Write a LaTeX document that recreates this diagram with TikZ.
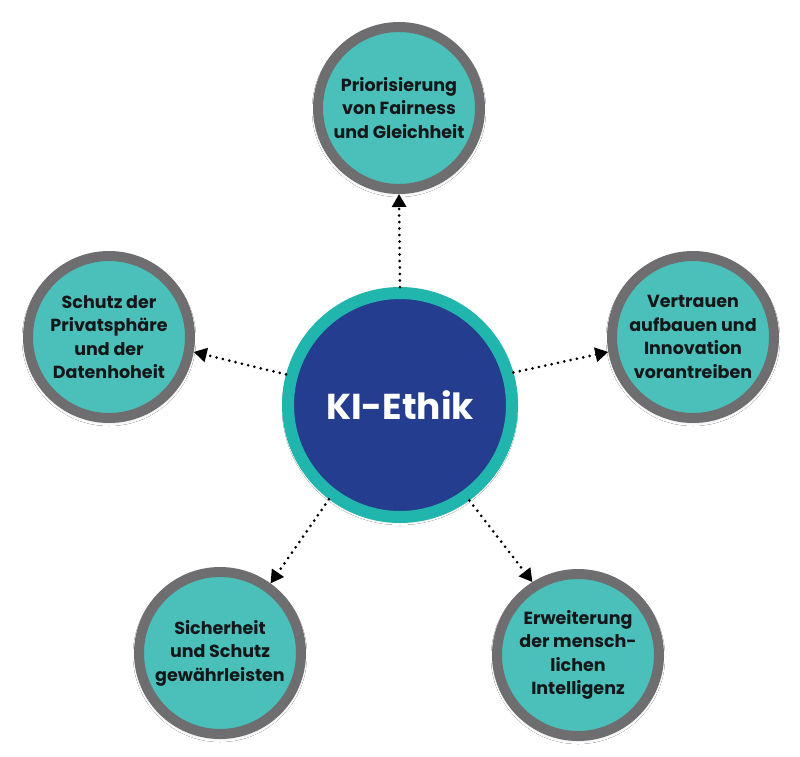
\documentclass[tikz,border=0pt]{standalone}
\usepackage{fontspec}
\setmainfont{Poppins}
\usetikzlibrary{arrows.meta,shadows.blur}
\definecolor{hubblue}{RGB}{37,61,143}
\definecolor{hubteal}{RGB}{32,181,173}
\definecolor{leafteal}{RGB}{75,191,186}
\definecolor{leafgray}{RGB}{110,110,112}
\definecolor{textdark}{RGB}{20,22,24}
\tikzset{
  hub/.style={circle, minimum size=224pt, inner sep=0pt, fill=hubblue, draw=hubteal, line width=12pt,
    text=white, font=\bfseries\fontsize{36}{40}\selectfont,
    blur shadow={shadow xshift=0pt, shadow yshift=-2pt, shadow blur steps=8, shadow opacity=25, shadow blur radius=6pt}},
  leaf/.style={circle, minimum size=162pt, inner sep=0pt, fill=leafteal, draw=leafgray, line width=10pt,
    align=center, text=textdark, font=\bfseries\fontsize{17.5}{23.5}\selectfont,
    blur shadow={shadow xshift=0pt, shadow yshift=-2pt, shadow blur steps=8, shadow opacity=25, shadow blur radius=6pt}},
  link/.style={line width=3pt, line cap=round, dash pattern=on 0pt off 6.5pt,
    -{Triangle[length=13pt,width=14pt]}}
}
\begin{document}
\begin{tikzpicture}[x=1pt,y=-1pt]
\useasboundingbox (0,0) rectangle (800,756);
\fill[white] (0,0) rectangle (800,756);
\node[hub] (hub) at (400,405) {KI-Ethik};
\node[leaf] (top) at (399,108) {Priorisierung\\von Fairness\\und Gleichheit};
\node[leaf] (left) at (109,337) {Schutz der\\Privatsphäre\\und der\\Datenhoheit};
\node[leaf] (right) at (693,337) {Vertrauen\\aufbauen und\\Innovation\\vorantreiben};
\node[leaf] (bl) at (220,653) {Sicherheit\\und Schutz\\gewährleisten};
\node[leaf] (br) at (578,655) {Erweiterung\\der mensch-\\lichen\\Intelligenz};
\draw[link] (hub.90) -- (top.-90);
\draw[link] (hub.165.6) -- (left.-10.5);
\draw[link] (hub.16) -- (right.190);
\draw[link] (hub.233.7) -- (bl.54);
\draw[link] (hub.-54.4) -- (br.122.7);
\end{tikzpicture}
\end{document}
